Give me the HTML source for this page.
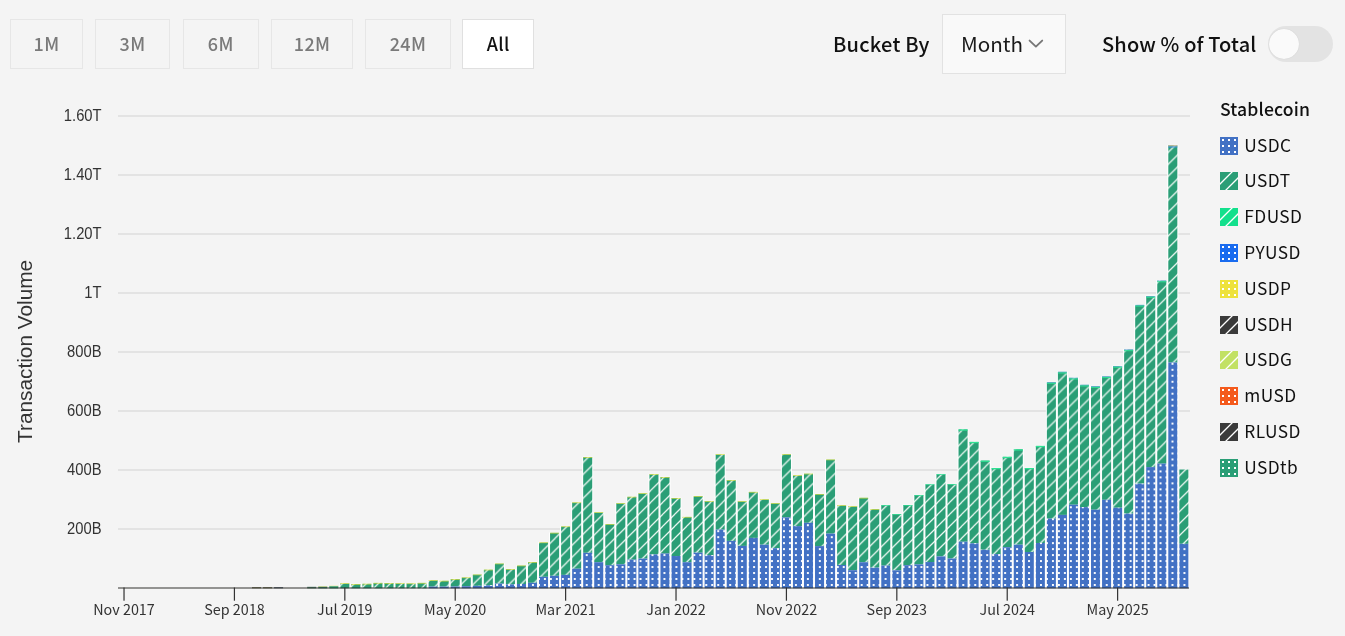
<!DOCTYPE html>
<html><head><meta charset="utf-8"><title>Stablecoin Transaction Volume</title>
<style>
*{box-sizing:border-box;margin:0;padding:0}
html,body{width:1345px;height:636px;overflow:hidden;background:#f4f4f4}
body{position:relative;font-family:"Noto Sans CJK SC","Liberation Sans",sans-serif;color:#111}
.chart{position:absolute;left:0;top:0}
.chart,.btn,.lbl,.sel,.legt,.li{will-change:transform}
.btn{position:absolute;top:19px;height:50px;border:1px solid #e6e6e6;background:#f4f4f4;color:#7a7a7a;font-size:18px;line-height:46px;text-align:center;font-weight:500;letter-spacing:0.3px}
.btn.act{background:#fff;color:#111;border-color:#e0e0e0}
.lbl{position:absolute;font-size:20px;font-weight:500;color:#111;white-space:nowrap}
.sel{position:absolute;left:942px;top:14px;width:124px;height:60px;border:1px solid #e2e2e2;background:#f9f9f9;font-size:20.6px;color:#1a1a1a;padding-left:18px;line-height:57px}
.chev{position:absolute;left:85.3px;top:24px}
.tog{position:absolute;left:1268px;top:26px;width:65px;height:36px;border-radius:18px;background:#e3e3e3}
.knob{position:absolute;left:0.5px;top:2.7px;width:30.4px;height:30.4px;border-radius:50%;background:#fafafa;box-shadow:0 0 1px rgba(0,0,0,.15)}
.legt{position:absolute;left:1220px;top:96px;font-size:17.6px;font-weight:500;color:#111;letter-spacing:0.15px}
.li{position:absolute;left:1220px;height:18px;display:flex;align-items:center}
.li svg{display:block;flex:none}
.li span{margin-left:6.3px;font-size:17.3px;color:#111;line-height:18px;position:relative;top:-0.8px;letter-spacing:0.45px}
</style></head><body>
<svg class="chart" width="1345" height="636" viewBox="0 0 1345 636">
<defs>
<pattern id="pC" patternUnits="userSpaceOnUse" x="781" y="582" width="5.977" height="5.977">
<rect width="6" height="6" fill="#4271c4"/><rect x="2" y="2" width="1.95" height="1.95" fill="#fff"/>
</pattern>
<pattern id="pT" patternUnits="userSpaceOnUse" x="5.5" y="0" width="11.955" height="11.955">
<rect width="12" height="12" fill="#2a9e76"/>
<path d="M-1 12.955L12.955 -1M-7 6.9775L6.9775 -7M4.9775 18.9325L18.9325 4.9775" stroke="#eef8f3" stroke-width="1.25"/>
</pattern>
</defs>
<rect x="118.0" y="528.00" width="1072.0" height="2" fill="#e3e3e3"/><rect x="118.0" y="469.00" width="1072.0" height="2" fill="#e3e3e3"/><rect x="118.0" y="410.00" width="1072.0" height="2" fill="#e3e3e3"/><rect x="118.0" y="351.00" width="1072.0" height="2" fill="#e3e3e3"/><rect x="118.0" y="292.00" width="1072.0" height="2" fill="#e3e3e3"/><rect x="118.0" y="233.00" width="1072.0" height="2" fill="#e3e3e3"/><rect x="118.0" y="174.00" width="1072.0" height="2" fill="#e3e3e3"/><rect x="118.0" y="115.00" width="1072.0" height="2" fill="#e3e3e3"/>
<rect x="339.30" y="583.10" width="11.04" height="5.20" fill="#fff"/><rect x="340.30" y="583.40" width="9.04" height="4.90" fill="url(#pT)"/><rect x="340.30" y="583.40" width="9.04" height="0.6" fill="#f0e43a"/><rect x="350.34" y="583.70" width="11.04" height="4.60" fill="#fff"/><rect x="351.34" y="584.00" width="9.04" height="4.30" fill="url(#pT)"/><rect x="351.34" y="584.00" width="9.04" height="0.6" fill="#f0e43a"/><rect x="361.38" y="583.50" width="11.04" height="4.80" fill="#fff"/><rect x="362.38" y="583.80" width="9.04" height="4.50" fill="url(#pT)"/><rect x="362.38" y="583.80" width="9.04" height="0.6" fill="#f0e43a"/><rect x="372.42" y="582.60" width="11.04" height="5.70" fill="#fff"/><rect x="373.42" y="582.90" width="9.04" height="5.40" fill="url(#pT)"/><rect x="373.42" y="582.90" width="9.04" height="0.6" fill="#f0e43a"/><rect x="383.46" y="582.70" width="11.04" height="5.60" fill="#fff"/><rect x="384.46" y="583.00" width="9.04" height="5.30" fill="url(#pT)"/><rect x="384.46" y="583.00" width="9.04" height="0.6" fill="#f0e43a"/><rect x="394.50" y="583.00" width="11.04" height="5.30" fill="#fff"/><rect x="395.50" y="583.30" width="9.04" height="5.00" fill="url(#pT)"/><rect x="395.50" y="583.30" width="9.04" height="0.6" fill="#f0e43a"/><rect x="405.54" y="583.20" width="11.04" height="5.10" fill="#fff"/><rect x="406.54" y="583.50" width="9.04" height="4.80" fill="url(#pT)"/><rect x="406.54" y="583.50" width="9.04" height="0.6" fill="#f0e43a"/><rect x="416.58" y="582.60" width="11.04" height="5.70" fill="#fff"/><rect x="417.58" y="582.90" width="9.04" height="5.40" fill="url(#pT)"/><rect x="417.58" y="582.90" width="9.04" height="0.6" fill="#f0e43a"/><rect x="427.62" y="580.00" width="11.04" height="8.30" fill="#fff"/><rect x="428.62" y="580.30" width="9.04" height="6.30" fill="url(#pT)"/><rect x="428.62" y="586.60" width="9.04" height="1.70" fill="url(#pC)"/><rect x="428.62" y="580.30" width="9.04" height="0.6" fill="#f0e43a"/><rect x="438.66" y="580.50" width="11.04" height="7.80" fill="#fff"/><rect x="439.66" y="580.80" width="9.04" height="5.80" fill="url(#pT)"/><rect x="439.66" y="586.60" width="9.04" height="1.70" fill="url(#pC)"/><rect x="439.66" y="580.80" width="9.04" height="0.6" fill="#f0e43a"/><rect x="449.70" y="578.70" width="11.04" height="9.60" fill="#fff"/><rect x="450.70" y="579.00" width="9.04" height="7.50" fill="url(#pT)"/><rect x="450.70" y="586.50" width="9.04" height="1.80" fill="url(#pC)"/><rect x="450.70" y="579.00" width="9.04" height="0.6" fill="#f0e43a"/><rect x="460.74" y="577.20" width="11.04" height="11.10" fill="#fff"/><rect x="461.74" y="577.50" width="9.04" height="8.70" fill="url(#pT)"/><rect x="461.74" y="586.20" width="9.04" height="2.10" fill="url(#pC)"/><rect x="461.74" y="577.50" width="9.04" height="0.6" fill="#f0e43a"/><rect x="471.78" y="574.30" width="11.04" height="14.00" fill="#fff"/><rect x="472.78" y="574.60" width="9.04" height="11.20" fill="url(#pT)"/><rect x="472.78" y="585.80" width="9.04" height="2.50" fill="url(#pC)"/><rect x="472.78" y="574.60" width="9.04" height="0.6" fill="#f0e43a"/><rect x="482.82" y="569.40" width="11.04" height="18.90" fill="#fff"/><rect x="483.82" y="569.70" width="9.04" height="15.60" fill="url(#pT)"/><rect x="483.82" y="585.30" width="9.04" height="3.00" fill="url(#pC)"/><rect x="483.82" y="569.70" width="9.04" height="0.6" fill="#f0e43a"/><rect x="493.86" y="563.30" width="11.04" height="25.00" fill="#fff"/><rect x="494.86" y="563.60" width="9.04" height="20.00" fill="url(#pT)"/><rect x="494.86" y="583.60" width="9.04" height="4.70" fill="url(#pC)"/><rect x="494.86" y="563.60" width="9.04" height="0.6" fill="#f0e43a"/><rect x="504.90" y="568.80" width="11.04" height="19.50" fill="#fff"/><rect x="505.90" y="569.10" width="9.04" height="15.30" fill="url(#pT)"/><rect x="505.90" y="584.40" width="9.04" height="3.90" fill="url(#pC)"/><rect x="505.90" y="569.10" width="9.04" height="0.6" fill="#f0e43a"/><rect x="515.94" y="565.30" width="11.04" height="23.00" fill="#fff"/><rect x="516.94" y="565.60" width="9.04" height="18.40" fill="url(#pT)"/><rect x="516.94" y="584.00" width="9.04" height="4.30" fill="url(#pC)"/><rect x="516.94" y="565.60" width="9.04" height="0.6" fill="#f0e43a"/><rect x="526.98" y="561.70" width="11.04" height="26.60" fill="#fff"/><rect x="527.98" y="562.00" width="9.04" height="20.80" fill="url(#pT)"/><rect x="527.98" y="582.80" width="9.04" height="5.50" fill="url(#pC)"/><rect x="527.98" y="562.00" width="9.04" height="0.6" fill="#f0e43a"/><rect x="538.02" y="542.20" width="11.04" height="46.10" fill="#fff"/><rect x="539.02" y="542.50" width="9.04" height="34.30" fill="url(#pT)"/><rect x="539.02" y="576.80" width="9.04" height="11.50" fill="url(#pC)"/><rect x="539.02" y="542.50" width="9.04" height="0.6" fill="#f0e43a"/><rect x="549.06" y="532.50" width="11.04" height="55.80" fill="#fff"/><rect x="550.06" y="532.80" width="9.04" height="43.00" fill="url(#pT)"/><rect x="550.06" y="575.80" width="9.04" height="12.50" fill="url(#pC)"/><rect x="550.06" y="532.80" width="9.04" height="0.6" fill="#f0e43a"/><rect x="560.10" y="526.20" width="11.04" height="62.10" fill="#fff"/><rect x="561.10" y="526.50" width="9.04" height="48.40" fill="url(#pT)"/><rect x="561.10" y="574.90" width="9.04" height="13.40" fill="url(#pC)"/><rect x="561.10" y="526.50" width="9.04" height="0.6" fill="#f0e43a"/><rect x="571.14" y="502.20" width="11.04" height="86.10" fill="#fff"/><rect x="572.14" y="502.50" width="9.04" height="66.20" fill="url(#pT)"/><rect x="572.14" y="568.70" width="9.04" height="19.60" fill="url(#pC)"/><rect x="572.14" y="502.50" width="9.04" height="0.6" fill="#f0e43a"/><rect x="582.18" y="456.70" width="11.04" height="131.60" fill="#fff"/><rect x="583.18" y="457.00" width="9.04" height="95.80" fill="url(#pT)"/><rect x="583.18" y="552.80" width="9.04" height="35.50" fill="url(#pC)"/><rect x="583.18" y="457.00" width="9.04" height="0.6" fill="#f0e43a"/><rect x="593.22" y="512.10" width="11.04" height="76.20" fill="#fff"/><rect x="594.22" y="512.40" width="9.04" height="49.80" fill="url(#pT)"/><rect x="594.22" y="562.20" width="9.04" height="26.10" fill="url(#pC)"/><rect x="594.22" y="512.40" width="9.04" height="0.6" fill="#f0e43a"/><rect x="604.26" y="523.70" width="11.04" height="64.60" fill="#fff"/><rect x="605.26" y="524.00" width="9.04" height="41.20" fill="url(#pT)"/><rect x="605.26" y="565.20" width="9.04" height="23.10" fill="url(#pC)"/><rect x="605.26" y="524.00" width="9.04" height="0.6" fill="#f0e43a"/><rect x="615.30" y="502.90" width="11.04" height="85.40" fill="#fff"/><rect x="616.30" y="503.20" width="9.04" height="61.10" fill="url(#pT)"/><rect x="616.30" y="564.30" width="9.04" height="24.00" fill="url(#pC)"/><rect x="616.30" y="503.20" width="9.04" height="0.6" fill="#f0e43a"/><rect x="626.34" y="496.50" width="11.04" height="91.80" fill="#fff"/><rect x="627.34" y="496.80" width="9.04" height="62.80" fill="url(#pT)"/><rect x="627.34" y="559.60" width="9.04" height="28.70" fill="url(#pC)"/><rect x="627.34" y="496.80" width="9.04" height="0.6" fill="#f0e43a"/><rect x="637.38" y="493.00" width="11.04" height="95.30" fill="#fff"/><rect x="638.38" y="493.30" width="9.04" height="65.30" fill="url(#pT)"/><rect x="638.38" y="558.60" width="9.04" height="29.70" fill="url(#pC)"/><rect x="638.38" y="493.30" width="9.04" height="0.6" fill="#f0e43a"/><rect x="648.42" y="473.90" width="11.04" height="114.40" fill="#fff"/><rect x="649.42" y="474.20" width="9.04" height="80.20" fill="url(#pT)"/><rect x="649.42" y="554.40" width="9.04" height="33.90" fill="url(#pC)"/><rect x="649.42" y="474.20" width="9.04" height="0.6" fill="#f0e43a"/><rect x="659.46" y="476.70" width="11.04" height="111.60" fill="#fff"/><rect x="660.46" y="477.00" width="9.04" height="76.50" fill="url(#pT)"/><rect x="660.46" y="553.50" width="9.04" height="34.80" fill="url(#pC)"/><rect x="660.46" y="477.00" width="9.04" height="0.6" fill="#f0e43a"/><rect x="670.50" y="497.70" width="11.04" height="90.60" fill="#fff"/><rect x="671.50" y="498.00" width="9.04" height="58.00" fill="url(#pT)"/><rect x="671.50" y="556.00" width="9.04" height="32.30" fill="url(#pC)"/><rect x="671.50" y="498.00" width="9.04" height="0.6" fill="#f0e43a"/><rect x="681.54" y="516.60" width="11.04" height="71.70" fill="#fff"/><rect x="682.54" y="516.90" width="9.04" height="45.30" fill="url(#pT)"/><rect x="682.54" y="562.20" width="9.04" height="26.10" fill="url(#pC)"/><rect x="682.54" y="516.90" width="9.04" height="0.6" fill="#f0e43a"/><rect x="692.58" y="495.80" width="11.04" height="92.50" fill="#fff"/><rect x="693.58" y="496.10" width="9.04" height="56.60" fill="url(#pT)"/><rect x="693.58" y="552.70" width="9.04" height="35.60" fill="url(#pC)"/><rect x="693.58" y="496.10" width="9.04" height="0.6" fill="#f0e43a"/><rect x="703.62" y="500.80" width="11.04" height="87.50" fill="#fff"/><rect x="704.62" y="501.10" width="9.04" height="54.00" fill="url(#pT)"/><rect x="704.62" y="555.10" width="9.04" height="33.20" fill="url(#pC)"/><rect x="704.62" y="501.10" width="9.04" height="0.6" fill="#f0e43a"/><rect x="714.66" y="454.10" width="11.04" height="134.20" fill="#fff"/><rect x="715.66" y="454.40" width="9.04" height="75.20" fill="url(#pT)"/><rect x="715.66" y="529.60" width="9.04" height="58.70" fill="url(#pC)"/><rect x="715.66" y="454.40" width="9.04" height="0.6" fill="#f0e43a"/><rect x="725.70" y="479.80" width="11.04" height="108.50" fill="#fff"/><rect x="726.70" y="480.10" width="9.04" height="60.80" fill="url(#pT)"/><rect x="726.70" y="540.90" width="9.04" height="47.40" fill="url(#pC)"/><rect x="726.70" y="480.10" width="9.04" height="0.6" fill="#f0e43a"/><rect x="736.74" y="501.00" width="11.04" height="87.30" fill="#fff"/><rect x="737.74" y="501.30" width="9.04" height="44.60" fill="url(#pT)"/><rect x="737.74" y="545.90" width="9.04" height="42.40" fill="url(#pC)"/><rect x="737.74" y="501.30" width="9.04" height="0.6" fill="#f0e43a"/><rect x="747.78" y="491.60" width="11.04" height="96.70" fill="#fff"/><rect x="748.78" y="491.90" width="9.04" height="46.00" fill="url(#pT)"/><rect x="748.78" y="537.90" width="9.04" height="50.40" fill="url(#pC)"/><rect x="748.78" y="491.90" width="9.04" height="0.6" fill="#f0e43a"/><rect x="758.82" y="499.10" width="11.04" height="89.20" fill="#fff"/><rect x="759.82" y="499.40" width="9.04" height="45.30" fill="url(#pT)"/><rect x="759.82" y="544.70" width="9.04" height="43.60" fill="url(#pC)"/><rect x="759.82" y="499.40" width="9.04" height="0.6" fill="#f0e43a"/><rect x="769.86" y="502.90" width="11.04" height="85.40" fill="#fff"/><rect x="770.86" y="503.20" width="9.04" height="45.00" fill="url(#pT)"/><rect x="770.86" y="548.20" width="9.04" height="40.10" fill="url(#pC)"/><rect x="770.86" y="503.20" width="9.04" height="0.6" fill="#f0e43a"/><rect x="780.90" y="453.90" width="11.04" height="134.40" fill="#fff"/><rect x="781.90" y="454.20" width="9.04" height="63.20" fill="url(#pT)"/><rect x="781.90" y="517.40" width="9.04" height="70.90" fill="url(#pC)"/><rect x="781.90" y="454.20" width="9.04" height="0.6" fill="#f0e43a"/><rect x="791.94" y="475.10" width="11.04" height="113.20" fill="#fff"/><rect x="792.94" y="475.40" width="9.04" height="50.70" fill="url(#pT)"/><rect x="792.94" y="526.10" width="9.04" height="62.20" fill="url(#pC)"/><rect x="792.94" y="475.40" width="9.04" height="0.6" fill="#f0e43a"/><rect x="802.98" y="473.40" width="11.04" height="114.90" fill="#fff"/><rect x="803.98" y="473.70" width="9.04" height="49.10" fill="url(#pT)"/><rect x="803.98" y="522.80" width="9.04" height="65.50" fill="url(#pC)"/><rect x="803.98" y="473.70" width="9.04" height="0.6" fill="#f0e43a"/><rect x="814.02" y="493.70" width="11.04" height="94.60" fill="#fff"/><rect x="815.02" y="494.00" width="9.04" height="52.10" fill="url(#pT)"/><rect x="815.02" y="546.10" width="9.04" height="42.20" fill="url(#pC)"/><rect x="815.02" y="494.00" width="9.04" height="0.6" fill="#f0e43a"/><rect x="825.06" y="459.30" width="11.04" height="129.00" fill="#fff"/><rect x="826.06" y="459.60" width="9.04" height="74.00" fill="url(#pT)"/><rect x="826.06" y="533.60" width="9.04" height="54.70" fill="url(#pC)"/><rect x="826.06" y="459.60" width="9.04" height="0.6" fill="#f0e43a"/><rect x="836.10" y="505.00" width="11.04" height="83.30" fill="#fff"/><rect x="837.10" y="505.30" width="9.04" height="59.70" fill="url(#pT)"/><rect x="837.10" y="565.00" width="9.04" height="23.30" fill="url(#pC)"/><rect x="837.10" y="505.30" width="9.04" height="0.6" fill="#f0e43a"/><rect x="847.14" y="506.00" width="11.04" height="82.30" fill="#fff"/><rect x="848.14" y="506.30" width="9.04" height="63.90" fill="url(#pT)"/><rect x="848.14" y="570.20" width="9.04" height="18.10" fill="url(#pC)"/><rect x="848.14" y="506.30" width="9.04" height="0.6" fill="#f0e43a"/><rect x="858.18" y="497.50" width="11.04" height="90.80" fill="#fff"/><rect x="859.18" y="497.80" width="9.04" height="64.40" fill="url(#pT)"/><rect x="859.18" y="562.20" width="9.04" height="26.10" fill="url(#pC)"/><rect x="859.18" y="497.80" width="9.04" height="0.6" fill="#f0e43a"/><rect x="869.22" y="508.80" width="11.04" height="79.50" fill="#fff"/><rect x="870.22" y="509.10" width="9.04" height="58.50" fill="url(#pT)"/><rect x="870.22" y="567.60" width="9.04" height="20.70" fill="url(#pC)"/><rect x="870.22" y="509.10" width="9.04" height="0.6" fill="#f0e43a"/><rect x="880.26" y="504.90" width="11.04" height="83.40" fill="#fff"/><rect x="881.26" y="505.20" width="9.04" height="60.40" fill="url(#pT)"/><rect x="881.26" y="565.60" width="9.04" height="22.70" fill="url(#pC)"/><rect x="881.26" y="505.20" width="9.04" height="0.7" fill="#2ee293"/><rect x="891.30" y="513.80" width="11.04" height="74.50" fill="#fff"/><rect x="892.30" y="514.10" width="9.04" height="56.20" fill="url(#pT)"/><rect x="892.30" y="570.30" width="9.04" height="18.00" fill="url(#pC)"/><rect x="892.30" y="514.10" width="9.04" height="0.7" fill="#2ee293"/><rect x="902.34" y="504.70" width="11.04" height="83.60" fill="#fff"/><rect x="903.34" y="505.00" width="9.04" height="60.20" fill="url(#pT)"/><rect x="903.34" y="565.20" width="9.04" height="23.10" fill="url(#pC)"/><rect x="903.34" y="505.00" width="9.04" height="0.7" fill="#2ee293"/><rect x="913.38" y="494.80" width="11.04" height="93.50" fill="#fff"/><rect x="914.38" y="495.10" width="9.04" height="69.30" fill="url(#pT)"/><rect x="914.38" y="564.40" width="9.04" height="23.90" fill="url(#pC)"/><rect x="914.38" y="495.10" width="9.04" height="0.7" fill="#2ee293"/><rect x="924.42" y="484.10" width="11.04" height="104.20" fill="#fff"/><rect x="925.42" y="484.40" width="9.04" height="77.60" fill="url(#pT)"/><rect x="925.42" y="562.00" width="9.04" height="26.30" fill="url(#pC)"/><rect x="925.42" y="484.40" width="9.04" height="0.7" fill="#2ee293"/><rect x="935.46" y="474.00" width="11.04" height="114.30" fill="#fff"/><rect x="936.46" y="474.30" width="9.04" height="82.10" fill="url(#pT)"/><rect x="936.46" y="556.40" width="9.04" height="31.90" fill="url(#pC)"/><rect x="936.46" y="474.30" width="9.04" height="0.7" fill="#2ee293"/><rect x="946.50" y="483.90" width="11.04" height="104.40" fill="#fff"/><rect x="947.50" y="484.20" width="9.04" height="74.30" fill="url(#pT)"/><rect x="947.50" y="558.50" width="9.04" height="29.80" fill="url(#pC)"/><rect x="947.50" y="484.20" width="9.04" height="0.7" fill="#2ee293"/><rect x="957.54" y="429.10" width="11.04" height="159.20" fill="#fff"/><rect x="958.54" y="429.40" width="9.04" height="112.30" fill="url(#pT)"/><rect x="958.54" y="541.70" width="9.04" height="46.60" fill="url(#pC)"/><rect x="958.54" y="429.40" width="9.04" height="1.3" fill="#2ee293"/><rect x="968.58" y="441.60" width="11.04" height="146.70" fill="#fff"/><rect x="969.58" y="441.90" width="9.04" height="101.40" fill="url(#pT)"/><rect x="969.58" y="543.30" width="9.04" height="45.00" fill="url(#pC)"/><rect x="969.58" y="441.90" width="9.04" height="1.3" fill="#2ee293"/><rect x="979.62" y="460.30" width="11.04" height="128.00" fill="#fff"/><rect x="980.62" y="460.60" width="9.04" height="89.10" fill="url(#pT)"/><rect x="980.62" y="549.70" width="9.04" height="38.60" fill="url(#pC)"/><rect x="980.62" y="460.60" width="9.04" height="1.3" fill="#2ee293"/><rect x="990.66" y="467.70" width="11.04" height="120.60" fill="#fff"/><rect x="991.66" y="468.00" width="9.04" height="86.10" fill="url(#pT)"/><rect x="991.66" y="554.10" width="9.04" height="34.20" fill="url(#pC)"/><rect x="991.66" y="468.00" width="9.04" height="1.3" fill="#2ee293"/><rect x="1001.70" y="456.50" width="11.04" height="131.80" fill="#fff"/><rect x="1002.70" y="456.80" width="9.04" height="90.40" fill="url(#pT)"/><rect x="1002.70" y="547.20" width="9.04" height="41.10" fill="url(#pC)"/><rect x="1002.70" y="456.80" width="9.04" height="1.3" fill="#2ee293"/><rect x="1012.74" y="449.00" width="11.04" height="139.30" fill="#fff"/><rect x="1013.74" y="449.30" width="9.04" height="95.40" fill="url(#pT)"/><rect x="1013.74" y="544.70" width="9.04" height="43.60" fill="url(#pC)"/><rect x="1013.74" y="449.30" width="9.04" height="1.3" fill="#2ee293"/><rect x="1023.78" y="467.70" width="11.04" height="120.60" fill="#fff"/><rect x="1024.78" y="468.00" width="9.04" height="84.00" fill="url(#pT)"/><rect x="1024.78" y="552.00" width="9.04" height="36.30" fill="url(#pC)"/><rect x="1024.78" y="468.00" width="9.04" height="1.3" fill="#2ee293"/><rect x="1034.82" y="445.60" width="11.04" height="142.70" fill="#fff"/><rect x="1035.82" y="445.90" width="9.04" height="97.10" fill="url(#pT)"/><rect x="1035.82" y="543.00" width="9.04" height="45.30" fill="url(#pC)"/><rect x="1035.82" y="445.90" width="9.04" height="1.3" fill="#2ee293"/><rect x="1045.86" y="381.80" width="11.04" height="206.50" fill="#fff"/><rect x="1046.86" y="382.10" width="9.04" height="136.50" fill="url(#pT)"/><rect x="1046.86" y="518.60" width="9.04" height="69.70" fill="url(#pC)"/><rect x="1046.86" y="382.10" width="9.04" height="0.7" fill="#79a6e8"/><rect x="1046.86" y="382.80" width="9.04" height="1.0" fill="#2ee293"/><rect x="1056.90" y="371.50" width="11.04" height="216.80" fill="#fff"/><rect x="1057.90" y="371.80" width="9.04" height="143.10" fill="url(#pT)"/><rect x="1057.90" y="514.90" width="9.04" height="73.40" fill="url(#pC)"/><rect x="1057.90" y="371.80" width="9.04" height="0.7" fill="#79a6e8"/><rect x="1057.90" y="372.50" width="9.04" height="1.0" fill="#2ee293"/><rect x="1067.94" y="377.50" width="11.04" height="210.80" fill="#fff"/><rect x="1068.94" y="377.80" width="9.04" height="126.90" fill="url(#pT)"/><rect x="1068.94" y="504.70" width="9.04" height="83.60" fill="url(#pC)"/><rect x="1068.94" y="377.80" width="9.04" height="0.7" fill="#79a6e8"/><rect x="1068.94" y="378.50" width="9.04" height="1.0" fill="#2ee293"/><rect x="1078.98" y="384.50" width="11.04" height="203.80" fill="#fff"/><rect x="1079.98" y="384.80" width="9.04" height="122.30" fill="url(#pT)"/><rect x="1079.98" y="507.10" width="9.04" height="81.20" fill="url(#pC)"/><rect x="1079.98" y="384.80" width="9.04" height="0.7" fill="#79a6e8"/><rect x="1079.98" y="385.50" width="9.04" height="1.0" fill="#2ee293"/><rect x="1090.02" y="385.90" width="11.04" height="202.40" fill="#fff"/><rect x="1091.02" y="386.20" width="9.04" height="123.50" fill="url(#pT)"/><rect x="1091.02" y="509.70" width="9.04" height="78.60" fill="url(#pC)"/><rect x="1091.02" y="386.20" width="9.04" height="0.7" fill="#79a6e8"/><rect x="1091.02" y="386.90" width="9.04" height="1.0" fill="#2ee293"/><rect x="1101.06" y="376.10" width="11.04" height="212.20" fill="#fff"/><rect x="1102.06" y="376.40" width="9.04" height="123.40" fill="url(#pT)"/><rect x="1102.06" y="499.80" width="9.04" height="88.50" fill="url(#pC)"/><rect x="1102.06" y="376.40" width="9.04" height="0.7" fill="#79a6e8"/><rect x="1102.06" y="377.10" width="9.04" height="1.0" fill="#2ee293"/><rect x="1112.10" y="365.70" width="11.04" height="222.60" fill="#fff"/><rect x="1113.10" y="366.00" width="9.04" height="141.70" fill="url(#pT)"/><rect x="1113.10" y="507.70" width="9.04" height="80.60" fill="url(#pC)"/><rect x="1113.10" y="366.00" width="9.04" height="0.7" fill="#79a6e8"/><rect x="1113.10" y="366.70" width="9.04" height="1.0" fill="#2ee293"/><rect x="1123.14" y="349.20" width="11.04" height="239.10" fill="#fff"/><rect x="1124.14" y="349.50" width="9.04" height="164.10" fill="url(#pT)"/><rect x="1124.14" y="513.60" width="9.04" height="74.70" fill="url(#pC)"/><rect x="1124.14" y="349.50" width="9.04" height="0.7" fill="#79a6e8"/><rect x="1124.14" y="350.20" width="9.04" height="1.0" fill="#2ee293"/><rect x="1134.18" y="304.60" width="11.04" height="283.70" fill="#fff"/><rect x="1135.18" y="304.90" width="9.04" height="178.70" fill="url(#pT)"/><rect x="1135.18" y="483.60" width="9.04" height="104.70" fill="url(#pC)"/><rect x="1135.18" y="304.90" width="9.04" height="0.7" fill="#79a6e8"/><rect x="1135.18" y="305.60" width="9.04" height="1.0" fill="#2ee293"/><rect x="1145.22" y="295.70" width="11.04" height="292.60" fill="#fff"/><rect x="1146.22" y="296.00" width="9.04" height="171.10" fill="url(#pT)"/><rect x="1146.22" y="467.10" width="9.04" height="121.20" fill="url(#pC)"/><rect x="1146.22" y="296.00" width="9.04" height="0.7" fill="#79a6e8"/><rect x="1146.22" y="296.70" width="9.04" height="1.0" fill="#2ee293"/><rect x="1156.26" y="280.30" width="11.04" height="308.00" fill="#fff"/><rect x="1157.26" y="280.60" width="9.04" height="183.00" fill="url(#pT)"/><rect x="1157.26" y="463.60" width="9.04" height="124.70" fill="url(#pC)"/><rect x="1157.26" y="280.60" width="9.04" height="0.7" fill="#79a6e8"/><rect x="1157.26" y="281.30" width="9.04" height="1.0" fill="#2ee293"/><rect x="1167.30" y="144.90" width="11.04" height="443.40" fill="#fff"/><rect x="1168.30" y="145.20" width="9.04" height="217.30" fill="url(#pT)"/><rect x="1168.30" y="362.50" width="9.04" height="225.80" fill="url(#pC)"/><rect x="1178.34" y="469.20" width="11.04" height="119.10" fill="#fff"/><rect x="1179.34" y="469.50" width="9.04" height="74.30" fill="url(#pT)"/><rect x="1179.34" y="543.80" width="9.04" height="44.50" fill="url(#pC)"/><rect x="251.98" y="587.00" width="9.04" height="1.40" fill="#7e7e66"/><rect x="263.02" y="587.00" width="9.04" height="1.40" fill="#7e7e66"/><rect x="274.06" y="587.00" width="9.04" height="1.40" fill="#66707e"/><rect x="307.18" y="586.80" width="9.04" height="1.60" fill="#4a7a66"/><rect x="318.22" y="586.60" width="9.04" height="1.80" fill="#3a8068"/><rect x="318.22" y="586.10" width="9.04" height="0.5" fill="#e6df3e" fill-opacity="0.6"/><rect x="329.26" y="586.20" width="9.04" height="2.20" fill="#2a9e76"/><rect x="329.26" y="585.70" width="9.04" height="0.5" fill="#e6df3e" fill-opacity="0.6"/><rect x="1168.30" y="145.2" width="9.04" height="1.3" fill="#c9b99a"/><rect x="1168.30" y="146.5" width="9.04" height="1" fill="#3f8fe0"/>
<rect x="118.0" y="587.1" width="1071.0" height="1.8" fill="rgba(40,40,35,0.52)"/>
<rect x="123.42" y="587.5" width="1.2" height="13.2" fill="#333"/><rect x="233.82" y="587.5" width="1.2" height="13.2" fill="#333"/><rect x="344.22" y="587.5" width="1.2" height="13.2" fill="#333"/><rect x="454.62" y="587.5" width="1.2" height="13.2" fill="#333"/><rect x="565.02" y="587.5" width="1.2" height="13.2" fill="#333"/><rect x="675.42" y="587.5" width="1.2" height="13.2" fill="#333"/><rect x="785.82" y="587.5" width="1.2" height="13.2" fill="#333"/><rect x="896.22" y="587.5" width="1.2" height="13.2" fill="#333"/><rect x="1006.62" y="587.5" width="1.2" height="13.2" fill="#333"/><rect x="1117.02" y="587.5" width="1.2" height="13.2" fill="#333"/>
<g transform="scale(0.935,1)" font-family="Liberation Sans, Arial, sans-serif" font-size="15.8" fill="#333"><text x="108.66" y="533.60" text-anchor="end">200B</text><text x="108.66" y="474.60" text-anchor="end">400B</text><text x="108.66" y="415.60" text-anchor="end">600B</text><text x="108.66" y="356.60" text-anchor="end">800B</text><text x="108.66" y="297.60" text-anchor="end">1T</text><text x="108.66" y="238.60" text-anchor="end">1.20T</text><text x="108.66" y="179.60" text-anchor="end">1.40T</text><text x="108.66" y="120.60" text-anchor="end">1.60T</text></g>
<g font-family="Noto Sans CJK SC, sans-serif" font-size="14.35" fill="#333"><text x="124.02" y="615" text-anchor="middle">Nov 2017</text><text x="234.42" y="615" text-anchor="middle">Sep 2018</text><text x="344.82" y="615" text-anchor="middle">Jul 2019</text><text x="455.22" y="615" text-anchor="middle">May 2020</text><text x="565.62" y="615" text-anchor="middle">Mar 2021</text><text x="676.02" y="615" text-anchor="middle">Jan 2022</text><text x="786.42" y="615" text-anchor="middle">Nov 2022</text><text x="896.82" y="615" text-anchor="middle">Sep 2023</text><text x="1007.22" y="615" text-anchor="middle">Jul 2024</text><text x="1117.62" y="615" text-anchor="middle">May 2025</text></g>
<text transform="translate(32.3,351.4) rotate(-90)" text-anchor="middle" font-family="Liberation Sans, Arial, sans-serif" font-size="20.8" fill="#333">Transaction Volume</text>
</svg>
<div class="btn" style="left:10px;width:73.0px">1M</div><div class="btn" style="left:95px;width:75.0px">3M</div><div class="btn" style="left:182.5px;width:75.5px">6M</div><div class="btn" style="left:270.5px;width:82.1px">12M</div><div class="btn" style="left:365.3px;width:86.0px">24M</div><div class="btn act" style="left:462.3px;width:72.3px">All</div>
<div class="lbl" style="left:833px;top:29px;letter-spacing:0.25px">Bucket By</div>
<div class="sel">Month<svg class="chev" width="16" height="11" viewBox="0 0 16 11"><path d="M1.6 1.6L7.9 7.6L14.2 1.6" fill="none" stroke="#777" stroke-width="1.9" stroke-linecap="round" stroke-linejoin="round"/></svg></div>
<div class="lbl" style="left:1102px;top:29px;letter-spacing:0.15px">Show % of Total</div>
<div class="tog"><div class="knob"></div></div>
<div class="legt">Stablecoin</div>
<div class="li" style="top:136.6px"><svg width="18" height="18" viewBox="0 0 18 18"><rect width="18" height="18" fill="#4271c4"/><rect x="2" y="2" width="2" height="2" fill="#fff"/><rect x="2" y="8" width="2" height="2" fill="#fff"/><rect x="2" y="14" width="2" height="2" fill="#fff"/><rect x="8" y="2" width="2" height="2" fill="#fff"/><rect x="8" y="8" width="2" height="2" fill="#fff"/><rect x="8" y="14" width="2" height="2" fill="#fff"/><rect x="14" y="2" width="2" height="2" fill="#fff"/><rect x="14" y="8" width="2" height="2" fill="#fff"/><rect x="14" y="14" width="2" height="2" fill="#fff"/></svg><span>USDC</span></div><div class="li" style="top:172.4px"><svg width="18" height="18" viewBox="0 0 18 18"><rect width="18" height="18" fill="#2a9e76"/><path d="M-1 13L13 -1M5 19L19 5" stroke="#fff" stroke-width="1.3"/></svg><span>USDT</span></div><div class="li" style="top:208.2px"><svg width="18" height="18" viewBox="0 0 18 18"><rect width="18" height="18" fill="#12e08c"/><path d="M-1 13L13 -1M5 19L19 5" stroke="#fff" stroke-width="1.3"/></svg><span>FDUSD</span></div><div class="li" style="top:244.0px"><svg width="18" height="18" viewBox="0 0 18 18"><rect width="18" height="18" fill="#196bef"/><rect x="2" y="2" width="2" height="2" fill="#fff"/><rect x="2" y="8" width="2" height="2" fill="#fff"/><rect x="2" y="14" width="2" height="2" fill="#fff"/><rect x="8" y="2" width="2" height="2" fill="#fff"/><rect x="8" y="8" width="2" height="2" fill="#fff"/><rect x="8" y="14" width="2" height="2" fill="#fff"/><rect x="14" y="2" width="2" height="2" fill="#fff"/><rect x="14" y="8" width="2" height="2" fill="#fff"/><rect x="14" y="14" width="2" height="2" fill="#fff"/></svg><span>PYUSD</span></div><div class="li" style="top:279.8px"><svg width="18" height="18" viewBox="0 0 18 18"><rect width="18" height="18" fill="#eee23c"/><rect x="2" y="2" width="2" height="2" fill="#fff"/><rect x="2" y="8" width="2" height="2" fill="#fff"/><rect x="2" y="14" width="2" height="2" fill="#fff"/><rect x="8" y="2" width="2" height="2" fill="#fff"/><rect x="8" y="8" width="2" height="2" fill="#fff"/><rect x="8" y="14" width="2" height="2" fill="#fff"/><rect x="14" y="2" width="2" height="2" fill="#fff"/><rect x="14" y="8" width="2" height="2" fill="#fff"/><rect x="14" y="14" width="2" height="2" fill="#fff"/></svg><span>USDP</span></div><div class="li" style="top:315.6px"><svg width="18" height="18" viewBox="0 0 18 18"><rect width="18" height="18" fill="#3a3a3a"/><path d="M-1 13L13 -1M5 19L19 5" stroke="#fff" stroke-width="1.3"/></svg><span>USDH</span></div><div class="li" style="top:351.4px"><svg width="18" height="18" viewBox="0 0 18 18"><rect width="18" height="18" fill="#c2e163"/><path d="M-1 13L13 -1M5 19L19 5" stroke="#fff" stroke-width="1.3"/></svg><span>USDG</span></div><div class="li" style="top:387.2px"><svg width="18" height="18" viewBox="0 0 18 18"><rect width="18" height="18" fill="#f45a1c"/><rect x="2" y="2" width="2" height="2" fill="#fff"/><rect x="2" y="8" width="2" height="2" fill="#fff"/><rect x="2" y="14" width="2" height="2" fill="#fff"/><rect x="8" y="2" width="2" height="2" fill="#fff"/><rect x="8" y="8" width="2" height="2" fill="#fff"/><rect x="8" y="14" width="2" height="2" fill="#fff"/><rect x="14" y="2" width="2" height="2" fill="#fff"/><rect x="14" y="8" width="2" height="2" fill="#fff"/><rect x="14" y="14" width="2" height="2" fill="#fff"/></svg><span>mUSD</span></div><div class="li" style="top:423.0px"><svg width="18" height="18" viewBox="0 0 18 18"><rect width="18" height="18" fill="#3a3a3a"/><path d="M-1 13L13 -1M5 19L19 5" stroke="#fff" stroke-width="1.3"/></svg><span>RLUSD</span></div><div class="li" style="top:458.8px"><svg width="18" height="18" viewBox="0 0 18 18"><rect width="18" height="18" fill="#2a9e76"/><rect x="2" y="2" width="2" height="2" fill="#fff"/><rect x="2" y="8" width="2" height="2" fill="#fff"/><rect x="2" y="14" width="2" height="2" fill="#fff"/><rect x="8" y="2" width="2" height="2" fill="#fff"/><rect x="8" y="8" width="2" height="2" fill="#fff"/><rect x="8" y="14" width="2" height="2" fill="#fff"/><rect x="14" y="2" width="2" height="2" fill="#fff"/><rect x="14" y="8" width="2" height="2" fill="#fff"/><rect x="14" y="14" width="2" height="2" fill="#fff"/></svg><span>USDtb</span></div>
</body></html>
